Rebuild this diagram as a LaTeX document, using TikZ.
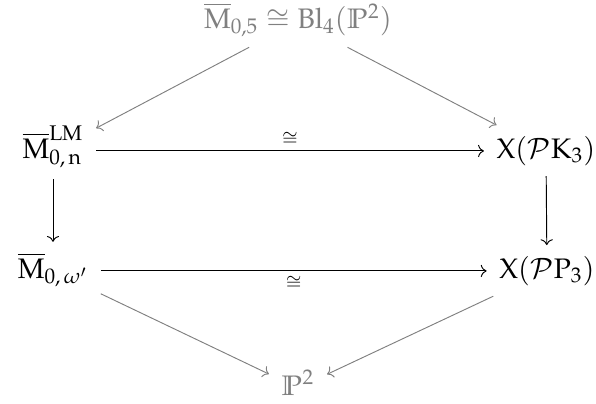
\documentclass[tikz,border=0pt,12pt]{standalone}
\usepackage{amssymb}
\usepackage{mathpazo}
\usetikzlibrary{cd}
\newcommand{\up}[1]{\mathrm{#1}}
\begin{document}
\begin{tikzpicture}[x=0.425pt,y=-0.425pt,
  cell/.style={shape=asymmetrical rectangle, inner xsep=1ex, inner ysep=0.85ex, anchor=base},
  gcell/.style={cell, text=gray},
  arr/.style={-{cm to}, line width=0.4pt},
  garr/.style={arr, draw=gray},
  lbl/.style={font=\scriptsize, inner sep=2pt}]
\useasboundingbox (0,0) rectangle (596,403);
\node[gcell] (top) at (298,28.5) {$\overline{\up{M}}_{0,5}\cong \mathrm{Bl}_4(\mathbb{P}^2)$};
\node[cell] (lm) at (53,158) {$\overline{\up{M}}^{\up{LM}}_{0,\,\up{n}}$};
\node[cell] (pk) at (546,158) {$\up{X}(\mathcal{P}\up{K}_3)$};
\node[cell] (om) at (53,278) {$\overline{\up{M}}_{0,\,\omega'}$};
\node[cell] (pp) at (547,278) {$\up{X}(\mathcal{P}\up{P}_3)$};
\node[gcell] (p2) at (298,395) {$\mathbb{P}^2$};
\draw[garr] (top) -- (lm);
\draw[garr] (top) -- (pk);
\draw[arr] (lm) -- node[above, lbl] {$\cong$} (pk);
\draw[arr] (om) -- node[below, lbl] {$\cong$} (pp);
\draw[arr] (lm) -- (om);
\draw[arr] (pk) -- (pp);
\draw[garr] (om) -- (p2);
\draw[garr] (pp) -- (p2);
\end{tikzpicture}
\end{document}
